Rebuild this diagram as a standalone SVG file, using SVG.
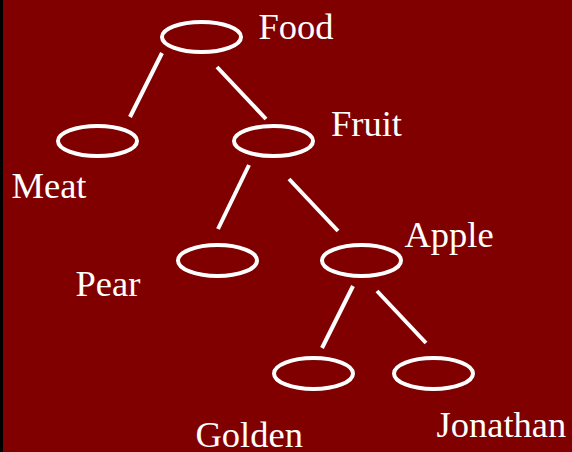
<svg xmlns="http://www.w3.org/2000/svg" width="572" height="452" viewBox="0 0 572 452">
<style>
.n{fill:none;stroke:#fff;stroke-width:4}
.e{stroke:#fff;stroke-width:4}
text{font-family:"Liberation Serif","Times New Roman",serif;font-size:36.5px;fill:#fff}
</style>
<rect x="0" y="0" width="572" height="452" fill="#800000"/>
<rect x="0" y="0" width="3" height="452" fill="#000"/>
<g id="connectors">
<line class="e" x1="162" y1="53" x2="130" y2="117"/>
<line class="e" x1="217" y1="67" x2="266" y2="119"/>
<line class="e" x1="249" y1="165" x2="218" y2="229"/>
<line class="e" x1="289" y1="179" x2="338" y2="231"/>
<line class="e" x1="353" y1="286" x2="322" y2="348"/>
<line class="e" x1="377" y1="291" x2="426" y2="343"/>
</g>
<g id="food"><ellipse class="n" cx="201.5" cy="37" rx="39.5" ry="15"/><text x="258.5" y="39">Food</text></g>
<g id="meat"><ellipse class="n" cx="97.5" cy="141" rx="39.5" ry="15"/><text x="11.5" y="197.5">Meat</text></g>
<g id="fruit"><ellipse class="n" cx="273.5" cy="141" rx="39.5" ry="15"/><text x="331" y="135.5">Fruit</text></g>
<g id="pear"><ellipse class="n" cx="217.5" cy="260.5" rx="39.5" ry="15.5"/><text x="75.5" y="296">Pear</text></g>
<g id="apple"><ellipse class="n" cx="361.5" cy="260.5" rx="39.5" ry="15.5"/><text x="404.5" y="247">Apple</text></g>
<g id="golden"><ellipse class="n" cx="313.5" cy="373.5" rx="39.5" ry="15.5"/><text x="195.5" y="446.5">Golden</text></g>
<g id="jonathan"><ellipse class="n" cx="433.5" cy="373.5" rx="39.5" ry="15.5"/><text x="436.5" y="437">Jonathan</text></g>
</svg>
